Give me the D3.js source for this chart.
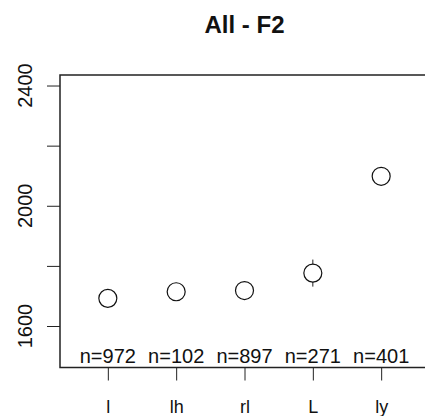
<!DOCTYPE html>
<html>
<head>
<meta charset="utf-8">
<script src="https://cdn.jsdelivr.net/npm/d3@7"></script>
<style>
  body { margin: 0; background: #fff; }
  svg { display: block; }
  text { font-family: "Liberation Sans", Arial, sans-serif; fill: #111; }
</style>
</head>
<body>
<div class="chart"></div>
<script>
// data
var categories = ["l", "lh", "rl", "L", "ly"];
var means = [1692, 1714, 1718, 1776, 2098];
var ciHalf = [12, 22, 16, 45, 22];
var counts = [972, 102, 897, 271, 401];
var yTicks = [1600, 1800, 2000, 2200, 2400];
var yLabels = [1600, 2000, 2400];

var svgWidth = 425, svgHeight = 416;
var box = { left: 60, right: 429, top: 75, bottom: 367.5 };

var svg = d3.select(".chart").append("svg")
  .attr("width", svgWidth)
  .attr("height", svgHeight);

var x = d3.scaleLinear().domain([0.3, 5.7]).range([box.left, box.right]);
var y = d3.scaleLinear().domain([1462, 2435]).range([box.bottom, box.top]);

// title
svg.append("text")
  .attr("x", (box.left + box.right) / 2)
  .attr("y", 33)
  .attr("text-anchor", "middle")
  .style("font-size", "24px")
  .style("font-weight", "bold")
  .text("All - F2");

// box
svg.append("rect")
  .attr("x", box.left)
  .attr("y", box.top)
  .attr("width", box.right - box.left)
  .attr("height", box.bottom - box.top)
  .attr("fill", "none")
  .attr("stroke", "#222")
  .attr("stroke-width", 1.5);

// y axis
var yAxis = d3.axisLeft(y)
  .tickValues(yTicks)
  .tickSize(13)
  .tickFormat("");
svg.append("g")
  .attr("transform", `translate(${box.left},0)`)
  .call(yAxis)
  .call(g => g.select(".domain").remove())
  .selectAll("line").attr("stroke", "#222");

svg.selectAll(".ylab")
  .data(yLabels)
  .enter()
  .append("text")
  .attr("class", "ylab")
  .attr("transform", d => `translate(32,${y(d)}) rotate(-90)`)
  .attr("text-anchor", "middle")
  .style("font-size", "20px")
  .text(d => d);

// x axis
var xAxis = d3.axisBottom(x)
  .tickValues(d3.range(1, categories.length + 1))
  .tickSize(13)
  .tickFormat(i => categories[i - 1]);
var xg = svg.append("g")
  .attr("transform", `translate(0,${box.bottom})`)
  .call(xAxis);
xg.select(".domain").remove();
xg.selectAll("line").attr("stroke", "#222");
xg.selectAll("text")
  .attr("y", 45)
  .attr("dy", 0)
  .style("font-size", "18px")
  .style("font-family", "'Liberation Sans', Arial, sans-serif")
  .attr("fill", "#111");

// n= labels
svg.selectAll(".nlab")
  .data(counts)
  .enter()
  .append("text")
  .attr("class", "nlab")
  .attr("x", (d, i) => x(i + 1))
  .attr("y", 363)
  .attr("text-anchor", "middle")
  .style("font-size", "20px")
  .text(d => "n=" + d);

// error bars
svg.selectAll(".bar")
  .data(means)
  .enter()
  .append("line")
  .attr("class", "bar")
  .attr("x1", (d, i) => x(i + 1))
  .attr("x2", (d, i) => x(i + 1))
  .attr("y1", (d, i) => y(d - ciHalf[i]))
  .attr("y2", (d, i) => y(d + ciHalf[i]))
  .attr("stroke", "#222")
  .attr("stroke-width", 1);

// mean points
svg.selectAll(".pt")
  .data(means)
  .enter()
  .append("circle")
  .attr("class", "pt")
  .attr("cx", (d, i) => x(i + 1))
  .attr("cy", d => y(d))
  .attr("r", 9)
  .attr("fill", "#fff")
  .attr("stroke", "#111")
  .attr("stroke-width", 1.2);
</script>
</body>
</html>
